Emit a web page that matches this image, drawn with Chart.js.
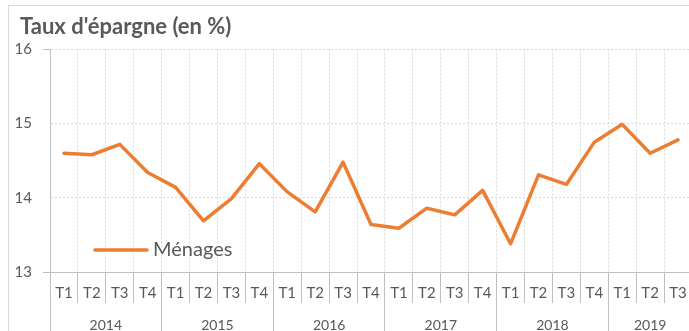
<!DOCTYPE html>
<html lang="fr">
<head>
<meta charset="utf-8">
<title>Taux d'épargne</title>
<script src="https://cdn.jsdelivr.net/npm/chart.js@4.4.1/dist/chart.umd.min.js"></script>
<style>
  html, body { margin: 0; padding: 0; background: #fff; overflow: hidden; }
  #frame { position: absolute; left: 8px; top: 5px; width: 760px; height: 400px; border: 1px solid #d9d9d9; }
  #wrap { position: absolute; left: 0; top: 0; width: 692px; height: 331px; }
</style>
</head>
<body>
<div id="frame"></div>
<div id="wrap"><canvas id="epargneChart" width="692" height="331"></canvas></div>
<script>
// Quarterly household savings rate, 2014 T1 - 2019 T3
const quarters = [
    'T1', 'T2', 'T3', 'T4',
    'T1', 'T2', 'T3', 'T4',
    'T1', 'T2', 'T3', 'T4',
    'T1', 'T2', 'T3', 'T4',
    'T1', 'T2', 'T3', 'T4',
    'T1', 'T2', 'T3'
];
const years = ['2014', '2015', '2016', '2017', '2018', '2019'];
const quartersPerYear = [4, 4, 4, 4, 4, 3];
const tauxMenages = [
    14.60, 14.58, 14.72, 14.34,
    14.14, 13.69, 13.99, 14.46,
    14.08, 13.81, 14.48, 13.64,
    13.59, 13.86, 13.77, 14.10,
    13.38, 14.31, 14.18, 14.75,
    14.99, 14.60, 14.78
];

const textGray = '#595959';
const axisGray = '#bfbfbf';
const gridGray = '#d9d9d9';
const fontFamily = 'Lato, Carlito, Calibri, sans-serif';

// year row: separators at year edges, year name in the middle of its quarters
const yearTicks = [];
let start = 0;
quartersPerYear.forEach((n, i) => {
    yearTicks.push({ value: start - 0.5, label: '', edge: true });
    yearTicks.push({ value: start + (n - 1) / 2, label: years[i], edge: false });
    start += n;
});
yearTicks.push({ value: start - 0.5, label: '', edge: true });

// legend drawn inside the plot, bottom left
const insideLegend = {
    id: 'insideLegend',
    afterDatasetsDraw(chart, args, opts) {
        const { ctx, chartArea } = chart;
        chart.data.datasets.forEach((ds, i) => {
            const x0 = chartArea.left + opts.left;
            const y = chartArea.bottom - opts.bottom - i * 24;
            ctx.save();
            ctx.strokeStyle = ds.borderColor;
            ctx.lineWidth = ds.borderWidth;
            ctx.lineCap = 'round';
            ctx.beginPath();
            ctx.moveTo(x0, y);
            ctx.lineTo(x0 + opts.lineLength, y);
            ctx.stroke();
            ctx.font = opts.font;
            ctx.fillStyle = opts.color;
            ctx.textBaseline = 'middle';
            ctx.fillText(ds.label, x0 + opts.lineLength + opts.gap, y);
            ctx.restore();
        });
    }
};

// title starts a bit right of the chart's left padding
const titleIndent = {
    id: 'titleIndent',
    afterLayout(chart, args, opts) {
        if (chart.titleBlock) {
            chart.titleBlock.left = opts.left;
        }
    }
};

const epargneChart = new Chart(document.getElementById('epargneChart'), {
    type: 'line',
    data: {
        labels: quarters,
        datasets: [{
            label: 'Ménages',
            data: tauxMenages,
            borderColor: '#ed7d31',
            backgroundColor: '#ed7d31',
            borderWidth: 3.5,
            borderJoinStyle: 'round',
            borderCapStyle: 'round',
            pointRadius: 0,
            tension: 0,
            xAxisID: 'x',
            yAxisID: 'y'
        }]
    },
    options: {
        responsive: false,
        animation: false,
        events: [],
        layout: { padding: { left: 8, top: 0, right: 0, bottom: 0 } },
        plugins: {
            legend: { display: false },
            tooltip: { enabled: false },
            title: {
                display: true,
                text: "Taux d'épargne (en %)",
                align: 'start',
                color: textGray,
                font: { family: fontFamily, size: 22, weight: 'bold' },
                padding: { top: 14, bottom: 9 }
            },
            titleIndent: { left: 20 },
            insideLegend: {
                left: 45, bottom: 22, lineLength: 52, gap: 6,
                font: '20px ' + fontFamily, color: textGray
            }
        },
        scales: {
            y: {
                min: 13,
                max: 16,
                ticks: {
                    stepSize: 1,
                    padding: 11,
                    color: textGray,
                    font: { family: fontFamily, size: 15 }
                },
                grid: {
                    color: c => c.tick.value === 13 ? 'transparent' : gridGray,
                    lineWidth: 1,
                    tickLength: 7,
                    tickColor: c => (c.tick.value === 13 || c.tick.value === 16) ? axisGray : 'transparent',
                    tickBorderDash: []
                },
                border: { display: true, color: axisGray, width: 1, dash: [2, 2] },
                afterFit: scale => { scale.width = 42; }
            },
            x: {
                type: 'category',
                position: 'bottom',
                weight: 0,
                offset: true,
                ticks: {
                    autoSkip: false,
                    maxRotation: 0,
                    padding: -19,
                    color: textGray,
                    font: { family: fontFamily, size: 15 }
                },
                grid: {
                    offset: true,
                    color: gridGray,
                    lineWidth: 1,
                    tickLength: 31,
                    tickColor: axisGray,
                    tickBorderDash: []
                },
                border: { display: true, color: axisGray, width: 1, dash: [2, 2] },
                afterFit: scale => { scale.height = 30; }
            },
            annee: {
                type: 'linear',
                position: 'bottom',
                weight: 1,
                min: -0.5,
                max: quarters.length - 0.5,
                afterBuildTicks: scale => {
                    scale.ticks = yearTicks.map(t => ({ value: t.value }));
                },
                ticks: {
                    autoSkip: false,
                    maxRotation: 0,
                    padding: -15,
                    color: textGray,
                    font: { family: fontFamily, size: 14 },
                    callback: (value, index) => yearTicks[index] ? yearTicks[index].label : ''
                },
                grid: {
                    drawOnChartArea: false,
                    lineWidth: 1,
                    tickLength: 30,
                    tickColor: c => (yearTicks[c.index] && yearTicks[c.index].edge) ? axisGray : 'transparent'
                },
                border: { display: false },
                afterFit: scale => { scale.height = 29; }
            }
        }
    },
    plugins: [insideLegend, titleIndent]
});
</script>
</body>
</html>
